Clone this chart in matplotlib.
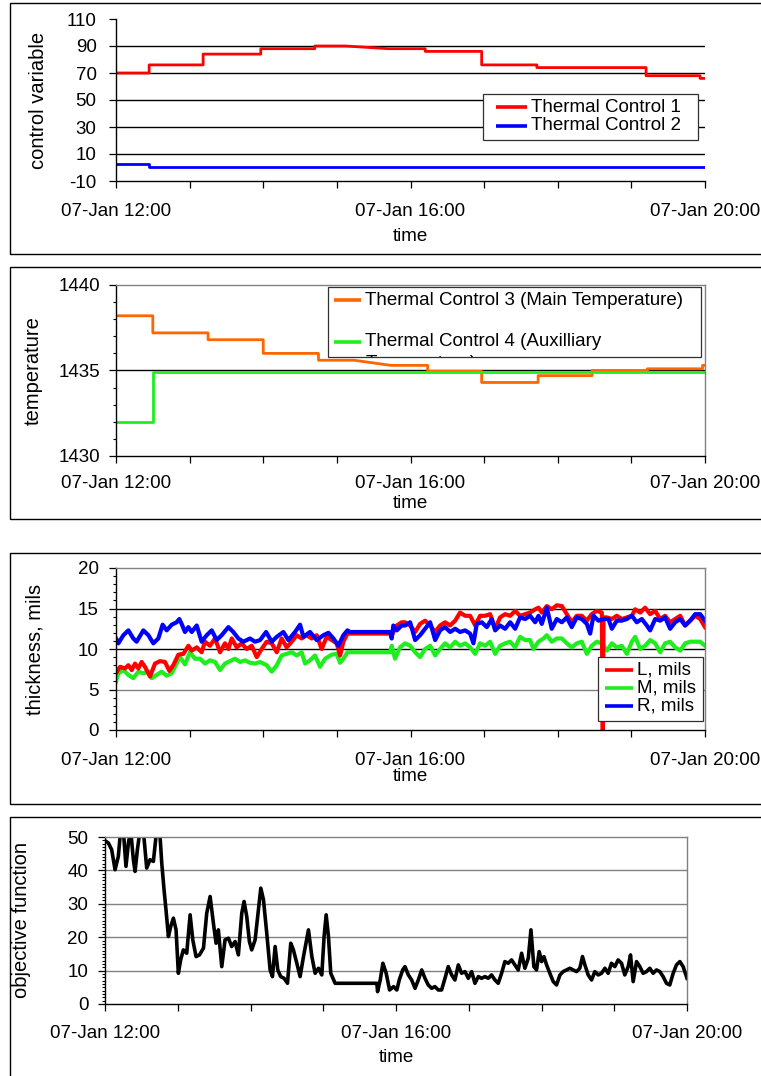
import numpy as np
import matplotlib
matplotlib.use('Agg')
import matplotlib.pyplot as plt
import matplotlib.dates as mdates
from matplotlib.patches import Rectangle
from matplotlib.transforms import Bbox, TransformedBbox

plt.rcParams['font.family'] = ['Liberation Sans', 'DejaVu Sans']
plt.rcParams['font.size'] = 13.5
plt.rcParams['axes.unicode_minus'] = False

START = np.datetime64('2003-01-07T12:00')
W, H = 761, 1076

# All times are minutes after 07-Jan 12:00

# control variables (step changes)
tc1_min = [0, 27, 27, 71, 71, 118, 118, 162, 162, 187, 222, 252, 252, 298, 298,
           343, 343, 432, 432, 476, 476, 480]
tc1_val = [70, 70, 76, 76, 84, 84, 88, 88, 90, 90, 88, 88, 86, 86, 76,
           76, 74, 74, 68, 68, 66, 66]
tc2_min = [0, 27, 27, 480]
tc2_val = [2.3, 2.3, 0.3, 0.3]

# temperatures
tc3_min = [0, 30, 30, 75, 75, 120, 120, 165, 165, 194, 224, 254, 254, 298, 298,
           344, 344, 388, 388, 433, 433, 478, 478, 480]
tc3_val = [1438.2, 1438.2, 1437.2, 1437.2, 1436.8, 1436.8, 1436.0, 1436.0, 1435.6,
           1435.6, 1435.3, 1435.3, 1434.95, 1434.95, 1434.3, 1434.3, 1434.7, 1434.7,
           1435.0, 1435.0, 1435.1, 1435.1, 1435.3, 1435.3]
tc4_min = [0, 30, 30, 480]
tc4_val = [1432.0, 1432.0, 1434.9, 1434.9]

# thickness L
L_min = [0, 3.3, 7.3, 10.1, 12.8, 15.5, 18.2, 20.9, 23.6, 27.7,
         31.8, 35.9, 39.9, 43.5, 46.7, 50.8, 54.9, 59.0, 61.7, 65.8,
         69.8, 72.5, 76.6, 80.7, 84.8, 88.8, 91.6, 94.3, 98.4, 102.4,
         106.5, 110.6, 114.7, 118.7, 122.8, 126.9, 131.0, 135.0, 139.1, 143.2,
         147.3, 151.3, 155.4, 159.5, 163.6, 167.6, 171.7, 175.8, 179.9, 182.6,
         185.3, 188.6, 223.3, 224.7, 228.8, 232.8, 235.6, 239.7, 243.8, 247.8,
         251.9, 256.0, 260.1, 264.1, 268.2, 272.3, 276.4, 280.4, 284.5, 288.6,
         292.7, 296.7, 300.8, 304.9, 309.0, 313.0, 317.1, 321.2, 325.3, 329.3,
         333.4, 337.5, 341.6, 344.3, 347.0, 351.1, 355.1, 359.2, 363.3, 367.4,
         371.4, 375.5, 379.6, 383.7, 387.7, 391.8, 395.9, 396.7, 397.3, 400.0,
         404.1, 408.1, 412.2, 416.3, 420.4, 423.1, 427.2, 431.2, 435.3, 439.4,
         443.5, 447.5, 451.6, 455.7, 459.8, 463.8, 467.9, 472.0, 476.1, 480]
L_val = [7.0, 7.8, 7.6, 8.0, 7.4, 8.2, 7.6, 8.4, 7.8, 6.6,
         8.2, 8.5, 8.4, 7.3, 8.0, 9.3, 9.4, 10.4, 9.8, 10.2,
         9.6, 10.9, 10.4, 11.3, 9.6, 10.7, 10.0, 11.3, 10.2, 10.7,
         10.0, 10.4, 9.0, 10.0, 10.9, 10.7, 9.6, 11.3, 10.2, 10.9,
         11.7, 11.3, 11.7, 11.3, 11.7, 10.0, 11.5, 11.1, 10.7, 9.2,
         10.9, 11.9, 11.9, 11.7, 12.9, 13.3, 13.3, 12.9, 12.1, 13.1,
         13.5, 12.9, 12.1, 12.9, 13.3, 12.9, 13.5, 14.5, 14.1, 14.1,
         12.9, 14.1, 14.1, 14.3, 12.5, 13.9, 14.3, 14.1, 14.7, 14.1,
         14.3, 14.5, 14.9, 15.1, 14.5, 15.3, 14.9, 15.4, 15.3, 14.3,
         13.3, 14.1, 14.1, 13.5, 14.3, 14.7, 14.5, 0.0, 13.9, 13.9,
         13.7, 14.1, 13.7, 13.9, 14.1, 14.9, 14.5, 15.1, 14.3, 14.7,
         13.7, 14.1, 13.3, 13.7, 14.1, 12.9, 13.5, 14.1, 13.7, 12.7]

# thickness M
M_min = [0, 1.9, 6.0, 10.1, 14.1, 18.2, 22.3, 26.4, 29.1, 33.1,
         37.2, 41.3, 45.4, 49.4, 52.2, 56.2, 60.3, 64.4, 68.5, 72.5,
         76.6, 80.7, 84.8, 88.8, 92.9, 97.0, 101.1, 105.1, 109.2, 113.3,
         117.4, 122.8, 126.9, 131.0, 135.0, 139.1, 143.2, 147.3, 151.3, 154.1,
         158.1, 162.2, 166.3, 170.4, 175.8, 179.9, 182.6, 185.3, 188.6, 223.3,
         224.7, 227.4, 231.5, 235.6, 239.7, 243.8, 247.8, 251.9, 256.0, 260.1,
         264.1, 268.2, 272.3, 276.4, 280.4, 284.5, 288.6, 292.7, 296.7, 300.8,
         304.9, 309.0, 313.0, 317.1, 321.2, 325.3, 329.3, 333.4, 337.5, 340.2,
         344.3, 348.4, 351.1, 355.1, 359.2, 363.3, 367.4, 371.4, 375.5, 379.6,
         383.7, 387.7, 391.8, 395.9, 400.0, 404.1, 408.1, 412.2, 416.3, 420.4,
         423.1, 427.2, 431.2, 435.3, 439.4, 443.5, 447.5, 451.6, 455.7, 459.8,
         463.8, 467.9, 472.0, 476.1, 480]
M_val = [6.0, 7.0, 7.4, 6.8, 6.4, 7.2, 7.0, 7.2, 6.4, 6.8,
         7.2, 6.7, 7.0, 8.2, 9.0, 8.1, 9.6, 8.8, 8.8, 8.2,
         8.6, 8.4, 7.4, 8.2, 8.5, 8.8, 8.4, 8.6, 8.3, 8.2,
         8.4, 8.0, 7.2, 8.0, 9.2, 9.4, 9.6, 9.2, 9.6, 8.2,
         8.6, 9.2, 7.8, 8.8, 9.3, 9.4, 8.3, 8.8, 9.6, 9.6,
         10.4, 8.8, 10.2, 10.7, 10.4, 9.6, 9.0, 10.0, 10.4, 9.2,
         10.0, 10.7, 10.2, 10.9, 10.4, 10.7, 10.2, 9.4, 10.7, 10.4,
         10.9, 9.4, 10.4, 10.7, 10.9, 10.2, 11.5, 11.1, 11.1, 10.0,
         10.9, 11.3, 11.7, 10.9, 11.3, 11.3, 10.7, 10.2, 10.7, 10.9,
         9.4, 10.4, 10.9, 10.7, 9.8, 10.7, 10.2, 10.4, 9.4, 10.9,
         11.5, 10.0, 10.4, 11.1, 10.7, 9.6, 10.7, 10.9, 10.2, 9.8,
         10.7, 10.9, 10.9, 10.9, 10.4]

# thickness R
R_min = [0, 1.9, 6.0, 10.1, 14.1, 16.8, 22.3, 26.4, 30.4, 34.5,
         38.0, 41.3, 45.4, 49.4, 51.6, 53.5, 56.2, 59.0, 61.7, 65.8,
         69.8, 73.9, 78.0, 82.1, 86.1, 91.6, 95.6, 99.7, 103.8, 109.2,
         113.3, 117.4, 122.3, 126.9, 131.0, 136.4, 140.5, 145.9, 150.0, 152.7,
         158.1, 163.6, 169.0, 173.1, 177.2, 181.2, 185.3, 188.6, 190.7, 223.3,
         224.7, 226.0, 228.8, 232.8, 235.6, 239.7, 243.8, 247.8, 251.9, 256.0,
         260.1, 264.1, 268.2, 272.3, 276.4, 280.4, 284.5, 288.6, 291.3, 294.0,
         298.1, 302.2, 306.2, 309.0, 313.0, 317.1, 321.2, 325.3, 329.3, 333.4,
         337.5, 341.6, 344.3, 347.0, 351.1, 355.1, 359.2, 363.3, 367.4, 371.4,
         375.5, 379.6, 383.7, 386.4, 389.1, 393.2, 397.3, 401.3, 404.1, 408.1,
         412.2, 416.3, 420.4, 424.4, 428.5, 432.6, 435.3, 439.4, 443.5, 447.5,
         451.6, 455.7, 459.8, 463.8, 467.9, 472.0, 476.1, 480]
R_val = [11.3, 10.7, 11.7, 12.3, 11.3, 10.9, 12.3, 11.7, 10.7, 11.3,
         13.0, 12.3, 13.0, 13.3, 13.7, 13.1, 12.1, 12.7, 12.1, 12.9,
         10.9, 11.7, 12.3, 11.1, 11.7, 12.7, 12.1, 11.3, 10.9, 11.3,
         10.9, 11.1, 12.1, 10.9, 11.5, 12.1, 11.1, 12.1, 13.0, 11.5,
         12.1, 11.1, 11.7, 12.0, 11.3, 10.4, 11.7, 12.3, 12.1, 12.1,
         11.3, 12.9, 12.3, 12.9, 12.9, 13.3, 11.1, 11.7, 12.5, 13.3,
         11.1, 12.3, 12.7, 12.1, 12.5, 12.1, 12.3, 11.9, 10.7, 13.1,
         13.3, 12.7, 13.7, 12.3, 12.9, 12.5, 13.3, 12.5, 13.9, 13.7,
         14.1, 13.3, 14.1, 13.1, 15.1, 12.5, 13.7, 13.3, 13.9, 12.7,
         13.9, 13.7, 13.1, 11.9, 14.1, 13.5, 13.7, 13.7, 12.5, 13.5,
         13.5, 13.7, 14.1, 13.3, 13.7, 12.9, 12.3, 13.7, 13.5, 13.9,
         12.5, 13.3, 13.7, 12.9, 13.5, 14.3, 14.3, 13.5]

# objective function
obj_min = [0.8, 2.8, 5.5, 8.3, 11.0, 12.9, 15.1, 17.3, 19.3, 21.2,
           23.4, 24.8, 26.7, 28.9, 31.6, 34.4, 37.1, 39.9, 42.6, 45.4,
           46.8, 48.7, 50.3, 52.3, 54.2, 56.4, 58.6, 60.5, 62.4, 64.6,
           67.4, 70.2, 72.4, 75.1, 77.9, 81.2, 83.9, 86.7, 89.4, 91.6,
           93.5, 96.3, 99.0, 101.8, 104.5, 107.3, 110.0, 112.8, 114.7, 116.9,
           119.1, 121.0, 123.8, 126.5, 128.5, 130.7, 133.4, 136.2, 138.1, 140.3,
           142.5, 144.9, 147.7, 150.5, 153.2, 155.4, 158.2, 160.9, 163.7, 167.8,
           170.6, 173.3, 176.1, 178.8, 180.7, 182.4, 184.3, 186.2, 189.8, 224.2,
           224.8, 227.0, 229.2, 231.9, 234.7, 238.0, 240.7,
           242.7, 245.5, 247.4,
           250.2, 252.9, 255.7, 258.4, 261.2, 263.9, 266.6, 269.4, 272.1, 274.9,
           277.6, 280.4, 283.1, 285.9, 288.6, 291.4, 294.1, 296.9, 299.6, 302.4,
           305.1, 307.9, 310.6, 313.4, 316.1, 318.8, 321.6, 324.3, 327.1, 329.8,
           332.6, 335.3, 338.1, 340.8, 343.6, 346.3, 349.1,
           351.3, 353.7, 355.9, 358.1, 360.1, 362.0, 364.2,
           366.9, 369.7, 372.4, 375.2, 377.9, 380.7, 383.4, 386.2, 388.9, 391.6,
           393.8, 395.8,
           398.5, 401.3, 404.0, 406.8, 409.5, 412.3, 415.0, 417.7, 420.5, 423.2,
           426.0, 428.7, 431.5,
           433.4, 435.6,
           438.4, 441.1, 443.8, 446.6, 449.3, 452.1, 454.8, 457.6, 460.3, 463.1,
           465.8, 468.6, 471.3, 474.1, 476.8, 479.6, 480]
obj_val = [48.7, 48.2, 46.2, 40.2, 44.2, 52, 52, 41.2, 48.2, 52,
           43.2, 39.7, 46.2, 52, 52, 40.7, 43.2, 42.7, 52, 50.2,
           42.2, 34.2, 28.2, 20.2, 23.2, 25.7, 22.2, 9.2, 13.2, 16.2,
           15.2, 26.7, 19.2, 14.2, 14.7, 16.7, 27.2, 32.2, 24.2, 18.2,
           22.2, 11.2, 19.2, 19.7, 17.2, 18.7, 14.7, 27.2, 30.7, 26.2,
           18.7, 16.2, 19.2, 28.2, 34.7, 31.2, 21.2, 10.2, 8.2, 17.2,
           10.2, 8.2, 7.7, 6.2, 18.2, 16.2, 12.2, 8.2, 14.2, 22.2,
           14.2, 9.2, 10.7, 8.7, 20.2, 26.7, 20.2, 9.2, 6.2, 6.2,
           3.7, 7.2, 12.2, 9.2, 4.2, 5.2, 4.2,
           7.2, 10.2, 11.2,
           8.7, 7.2, 4.7, 7.2, 10.2, 7.7, 5.7, 4.7, 5.2, 4.2,
           4.2, 7.7, 11.2, 8.7, 7.2, 11.7, 9.2, 9.7, 7.7, 9.7,
           6.2, 8.2, 7.7, 8.2, 7.7, 8.7, 7.2, 6.2, 9.2, 12.7,
           12.2, 13.2, 11.7, 10.2, 15.2, 10.7, 13.7,
           22.2, 11.2, 10.2, 15.7, 12.7, 14.2, 11.7,
           9.2, 6.7, 5.7, 8.7, 9.7, 10.2, 10.7, 10.2, 9.7, 10.7,
           14.2, 11.7,
           8.7, 7.2, 9.7, 8.7, 9.2, 10.7, 9.2, 12.2, 11.2, 13.2,
           12.2, 8.7, 11.2,
           14.7, 6.7,
           12.7, 11.2, 9.2, 9.7, 10.7, 9.2, 10.2, 9.7, 8.2, 6.2,
           5.7, 9.2, 11.7, 12.7, 11.2, 8.2, 7.7]

RED = '#FF0000'
BLUE = '#0000FF'
GREEN = '#1EEE1E'
ORANGE = '#FF6600'
GRAY = '#808080'


def main():
    fig = plt.figure(figsize=(W / 100, H / 100), dpi=100)
    panel1(fig)
    panel2(fig)
    panel3(fig)
    panel4(fig)
    fig.savefig('out.png', dpi=100)


# minutes after noon -> datetime64 array
def to_time(minutes):
    sec = np.round(np.asarray(minutes, dtype=float) * 60).astype('int64')
    return START + sec.astype('timedelta64[s]')


# axes placed by pixel box (left, top, right, bottom)
def pixel_axes(fig, x0, y0, x1, y1):
    return fig.add_axes([x0 / W, 1 - y1 / H, (x1 - x0) / W, (y1 - y0) / H])


# thin black box drawn round each chart like the excel chart area
def panel_frame(fig, x0, y0, x1, y1):
    fig.patches.append(Rectangle((x0 / W, 1 - y1 / H), (x1 - x0) / W, (y1 - y0) / H,
                                 transform=fig.transFigure, fill=False,
                                 edgecolor='black', lw=1.0))


def time_axis(ax, pad, label_y):
    ax.set_xlim(START, START + np.timedelta64(8, 'h'))
    ax.xaxis.set_major_locator(mdates.HourLocator(byhour=[12, 16, 20]))
    ax.xaxis.set_minor_locator(mdates.HourLocator())
    ax.xaxis.set_major_formatter(mdates.DateFormatter('%d-%b %H:%M'))
    ax.tick_params(axis='x', which='both', direction='out', length=5, width=0.9,
                   pad=pad, labelsize=13.5)
    ax.set_xlabel('time', fontsize=13.5)
    ax.xaxis.set_label_coords(0.5, label_y)


def value_axis(ax, ticks, minor, pad, label, label_x):
    ax.set_ylim(ticks[0], ticks[-1])
    ax.set_yticks(ticks)
    if minor:
        ax.set_yticks(np.arange(ticks[0], ticks[-1] + minor / 2, minor), minor=True)
    ax.tick_params(axis='y', which='major', direction='out', length=5, width=0.9,
                   pad=pad, labelsize=13.5)
    ax.tick_params(axis='y', which='minor', direction='out', length=2.5, width=0.8)
    ax.set_ylabel(label, fontsize=14.5)
    ax.yaxis.set_label_coords(label_x, 0.5)


def frame_style(ax, boxed):
    for side in ('left', 'bottom'):
        ax.spines[side].set_color('black')
        ax.spines[side].set_linewidth(1.0)
    for side in ('top', 'right'):
        if boxed:
            ax.spines[side].set_color(GRAY)
            ax.spines[side].set_linewidth(1.0)
        else:
            ax.spines[side].set_visible(False)


def grid_lines(ax, levels, colors):
    for v, c in zip(levels, colors):
        ax.axhline(v, color=c, lw=1.0, zorder=0.5)


# hand made legend so the text can be cut by the box like in the original
def draw_legend(ax, box, entries, lx, tx):
    x0, y0, x1, y1 = box
    frame = Rectangle((x0, y0), x1 - x0, y1 - y0, transform=ax.transAxes,
                      facecolor='white', edgecolor='#303030', lw=0.9, zorder=10)
    ax.add_patch(frame)
    clip = TransformedBbox(Bbox([[x0, y0], [x1, y1]]), ax.transAxes)
    for text, color, y in entries:
        if color is not None:
            ax.plot(lx, [y, y], transform=ax.transAxes, color=color, lw=2.6,
                    solid_capstyle='butt', zorder=11)
        t = ax.text(tx, y, text, transform=ax.transAxes, va='center', ha='left',
                    fontsize=13.5, zorder=12, clip_on=True)
        t.set_clip_box(clip)
        t.set_clip_path(None)


def panel1(fig):
    panel_frame(fig, 10, 3, 800, 254)
    ax = pixel_axes(fig, 116, 19, 705, 181)
    ax.plot(to_time(tc1_min), tc1_val, color=RED, lw=2.0)
    ax.plot(to_time(tc2_min), tc2_val, color=BLUE, lw=2.0)
    frame_style(ax, False)
    value_axis(ax, [-10, 10, 30, 50, 70, 90, 110], None, 9, 'control variable', -0.116)
    grid_lines(ax, [10, 30, 50, 70, 90], ['black'] * 5)
    time_axis(ax, 11, -0.288)
    draw_legend(ax, (0.623, 0.253, 0.988, 0.537),
                [('Thermal Control 1', RED, 0.455), ('Thermal Control 2', BLUE, 0.340)],
                [0.645, 0.698], 0.705)


def panel2(fig):
    panel_frame(fig, 10, 267, 800, 519)
    ax = pixel_axes(fig, 116, 285, 705, 456)
    ax.plot(to_time(tc3_min), tc3_val, color=ORANGE, lw=2.0)
    ax.plot(to_time(tc4_min), tc4_val, color=GREEN, lw=2.0)
    frame_style(ax, True)
    value_axis(ax, [1430, 1435, 1440], 1, 6, 'temperature', -0.124)
    grid_lines(ax, [1435], ['black'])
    time_axis(ax, 8.5, -0.228)
    draw_legend(ax, (0.360, 0.578, 0.994, 0.99),
                [('Thermal Control 3 (Main Temperature)', ORANGE, 0.912),
                 ('Thermal Control 4 (Auxilliary', GREEN, 0.667),
                 ('Temperature)', None, 0.543)],
                [0.370, 0.416], 0.423)


def panel3(fig):
    panel_frame(fig, 10, 553, 800, 804)
    ax = pixel_axes(fig, 116, 568, 705, 730)
    ax.plot(to_time(M_min), M_val, color=GREEN, lw=3.0)
    ax.plot(to_time(L_min), L_val, color=RED, lw=3.0)
    ax.plot(to_time(R_min), R_val, color=BLUE, lw=3.0)
    frame_style(ax, True)
    value_axis(ax, [0, 5, 10, 15, 20], 1, 7.5, 'thickness, mils', -0.121)
    grid_lines(ax, [5, 10, 15], [GRAY, 'black', 'black'])
    time_axis(ax, 11, -0.234)
    draw_legend(ax, (0.819, 0.056, 0.996, 0.449),
                [('L, mils', RED, 0.369), ('M, mils', GREEN, 0.262),
                 ('R, mils', BLUE, 0.149)],
                [0.830, 0.877], 0.884)


def panel4(fig):
    panel_frame(fig, 10, 817, 800, 1100)
    ax = pixel_axes(fig, 105, 837, 687, 1004)
    ax.plot(to_time(obj_min), obj_val, color='black', lw=2.6)
    frame_style(ax, True)
    value_axis(ax, [0, 10, 20, 30, 40, 50], 1, 7, 'objective function', -0.128)
    grid_lines(ax, [10, 20, 30, 40], [GRAY] * 4)
    time_axis(ax, 10, -0.269)


main()
